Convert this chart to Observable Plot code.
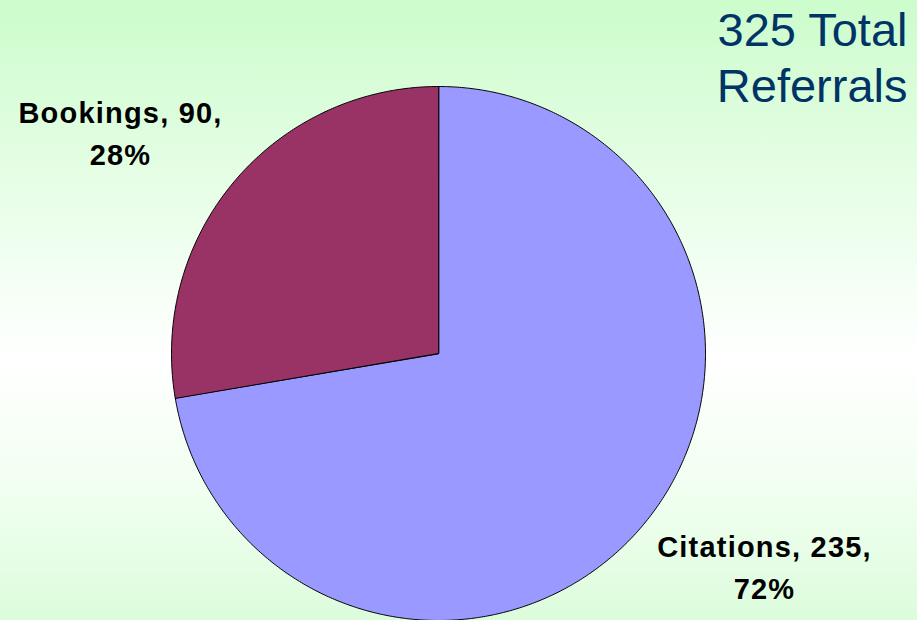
<!DOCTYPE html>
<html>
<head>
<meta charset="utf-8">
<script src="https://cdn.jsdelivr.net/npm/d3@7"></script>
<script src="https://cdn.jsdelivr.net/npm/@observablehq/plot@0.6"></script>
<style>
  html, body { margin: 0; padding: 0; width: 917px; height: 620px; overflow: hidden; }
  #chart svg { display: block; }
  g.lbl text { letter-spacing: 1.2px; }
</style>
</head>
<body>
<div id="chart"></div>
<script>
const names = ["Citations", "Bookings"];
const values = [235, 90];
const colors = ["#9999ff", "#993366"];
const titleLines = ["Total", "Referrals"];

const total = d3.sum(values);
const data = names.map((name, i) => ({name, value: values[i]}));
const arcs = d3.pie().sort(null).value(d => d.value)(data);

// polygon outline of each slice in unit-circle data space
const points = [];
for (const a of arcs) {
  points.push({name: a.data.name, x: 0, y: 0});
  const n = Math.ceil((a.endAngle - a.startAngle) / (Math.PI / 360));
  for (let i = 0; i <= n; i++) {
    const t = a.startAngle + (a.endAngle - a.startAngle) * i / n;
    points.push({name: a.data.name, x: Math.sin(t), y: Math.cos(t)});
  }
}

const labelText = d => `${d.name}, ${d.value},\n${Math.round(d.value / total * 100)}%`;
const font = "'Liberation Sans', Arial, Helvetica, sans-serif";

const chart = Plot.plot({
  width: 917,
  height: 620,
  marginLeft: 171,
  marginRight: 212,
  marginTop: 86,
  marginBottom: 0,
  x: {domain: [-1, 1], axis: null},
  y: {domain: [-1, 1], axis: null},
  color: {domain: names, range: colors},
  style: {
    background: "linear-gradient(to bottom, #ccfccc 0%, #f4fff4 45%, #ffffff 58%, #f0fff0 80%, #dcfcdc 100%)",
    fontFamily: font,
    overflow: "visible"
  },
  marks: [
    Plot.line(points, {x: "x", y: "y", z: "name", fill: "name", stroke: "black", strokeWidth: 1, curve: "linear-closed"}),
    Plot.text([data[1]], {
      text: labelText, frameAnchor: "top-left", dx: -51, dy: 6.5,
      textAnchor: "middle", lineAnchor: "top", lineHeight: 1.45,
      fontSize: 29, fontWeight: "bold", fill: "black", fontFamily: font, className: "lbl"
    }),
    Plot.text([data[0]], {
      text: labelText, frameAnchor: "bottom-right", dx: 59, dy: -93,
      textAnchor: "middle", lineAnchor: "top", lineHeight: 1.45,
      fontSize: 29, fontWeight: "bold", fill: "black", fontFamily: font, className: "lbl"
    }),
    Plot.text([`${total} ${titleLines[0]}\n${titleLines[1]}`], {
      frameAnchor: "top-right", dx: 202, dy: -81,
      textAnchor: "end", lineAnchor: "top", lineHeight: 1.2,
      fontSize: 47, fill: "#003366", fontFamily: font
    })
  ]
});
document.getElementById("chart").appendChild(chart);
</script>
</body>
</html>
